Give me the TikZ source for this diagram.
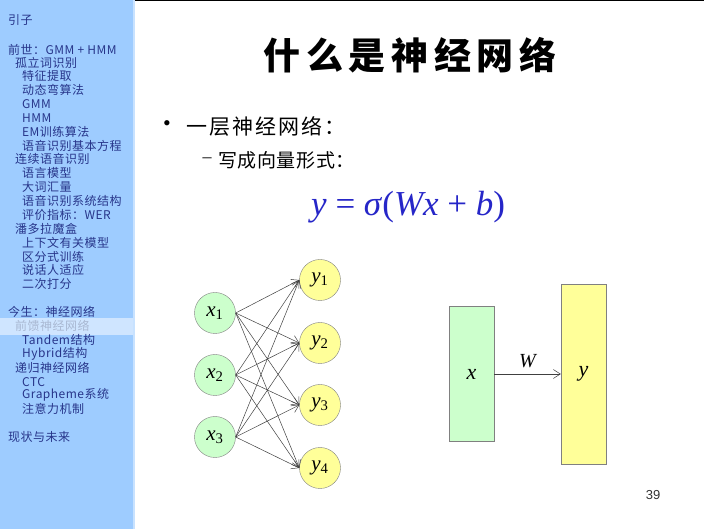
\documentclass[tikz,border=0pt]{standalone}
\usepackage{fontspec}
\setmainfont{Liberation Serif}
\newfontfamily\cjk{Noto Sans CJK SC}
\newfontfamily\pagefont{Liberation Sans}
\usetikzlibrary{arrows.meta,positioning}

\definecolor{sidebg}{HTML}{9ECCFF}
\definecolor{sideedge}{HTML}{C8E2FF}
\definecolor{sidehl}{HTML}{CFE5FF}
\definecolor{sidetext}{HTML}{27358A}
\definecolor{hltext}{HTML}{A9B8D2}
\definecolor{eqblue}{HTML}{2626C8}
\definecolor{ingreen}{HTML}{CCFFCC}
\definecolor{outyellow}{HTML}{FFFF99}

\begin{document}
\begin{tikzpicture}[x=1pt,y=-1pt,>={Straight Barb[length=7pt,width=9pt]},
  toc/.style={anchor=west,inner sep=0pt,text=sidetext,font=\cjk\fontsize{12}{12}\selectfont\addfontfeature{LetterSpace=4}},
  tochl/.style={toc,text=hltext},
  neuronx/.style={circle,draw=black!50,fill=ingreen,minimum size=41pt,inner sep=0pt,font=\fontsize{21}{21}\selectfont\itshape},
  neurony/.style={neuronx,fill=outyellow},
  vecbox/.style={draw=black!50,minimum width=45pt,inner sep=0pt,font=\fontsize{22}{22}\selectfont\itshape},
  link/.style={->,draw=black!75,line width=0.5pt}]
\useasboundingbox (0,0) rectangle (705,529);
\fill[white] (0,0) rectangle (705,529);

% sidebar
\fill[sidebg] (0,0) rectangle (133,529);
\fill[sideedge] (133,0) rectangle (135,529);
\fill[sidehl] (0,318) rectangle (133,335);
\draw[black,line width=1.2pt] (135,0.6) -- (704,0.6);

\node[toc] (s01) at (8,20) {引子};
\node[toc] (s02) at (8,50) {前世：GMM + HMM};
\node[toc] (s03) at (15,63) {孤立词识别};
\node[toc] (s04) at (22,76) {特征提取};
\node[toc] (s05) at (22,90) {动态弯算法};
\node[toc] (s06) at (22,104) {GMM};
\node[toc] (s07) at (22,118) {HMM};
\node[toc] (s08) at (22,132) {EM训练算法};
\node[toc] (s09) at (22,146) {语音识别基本方程};
\node[toc] (s10) at (15,159) {连续语音识别};
\node[toc] (s11) at (22,173) {语言模型};
\node[toc] (s12) at (22,187) {大词汇量};
\node[toc] (s13) at (22,201) {语音识别系统结构};
\node[toc] (s14) at (22,215) {评价指标：WER};
\node[toc] (s15) at (15,229) {潘多拉魔盒};
\node[toc] (s16) at (22,243) {上下文有关模型};
\node[toc] (s17) at (22,257) {区分式训练};
\node[toc] (s18) at (22,270) {说话人适应};
\node[toc] (s19) at (22,284) {二次打分};
\node[toc] (s20) at (8,312) {今生：神经网络};
\node[tochl] (s21) at (15,326) {前馈神经网络};
\node[toc] (s22) at (22,340) {Tandem结构};
\node[toc] (s23) at (22,354) {Hybrid结构};
\node[toc] (s24) at (15,368) {递归神经网络};
\node[toc] (s25) at (22,382) {CTC};
\node[toc] (s26) at (22,395) {Grapheme系统};
\node[toc] (s27) at (22,409) {注意力机制};
\node[toc] (s28) at (8,437) {现状与未来};

% slide text
\node[font=\cjk\bfseries\fontsize{37}{37}\selectfont\addfontfeature{LetterSpace=15}] (title) at (410,55) {什么是神经网络};
\node[anchor=center,inner sep=0pt,font=\fontsize{22}{22}\selectfont] (dot1) at (167,126) {•};
\node[anchor=west,inner sep=0pt,font=\cjk\fontsize{21}{21}\selectfont\addfontfeature{LetterSpace=10}] (item1) at (186,126) {一层神经网络：};
\node[anchor=center,inner sep=0pt,font=\fontsize{18}{18}\selectfont] (dash1) at (207,160) {–};
\node[anchor=west,inner sep=0pt,font=\cjk\fontsize{19}{19}\selectfont\addfontfeature{LetterSpace=3}] (item2) at (218,160) {写成向量形式：};
\node[anchor=west,inner sep=0pt,text=eqblue,font=\fontsize{35}{35}\selectfont] (eq) at (311,207) {\textit{y} = \textit{σ}(\textit{Wx} + \textit{b})};

% network
\node[neuronx] (x1) at (215,313) {x\textsubscript{\upshape 1}};
\node[neuronx] (x2) at (215,375) {x\textsubscript{\upshape 2}};
\node[neuronx] (x3) at (215,437) {x\textsubscript{\upshape 3}};
\node[neurony] (y1) at (320,280) {y\textsubscript{\upshape 1}};
\node[neurony] (y2) at (320,343) {y\textsubscript{\upshape 2}};
\node[neurony] (y3) at (320,405) {y\textsubscript{\upshape 3}};
\node[neurony] (y4) at (320,468) {y\textsubscript{\upshape 4}};
\draw[link] (x1.east) -- (y1.west);
\draw[link] (x1.east) -- (y2.west);
\draw[link] (x1.east) -- (y3.west);
\draw[link] (x1.east) -- (y4.west);
\draw[link] (x2.east) -- (y1.west);
\draw[link] (x2.east) -- (y2.west);
\draw[link] (x2.east) -- (y3.west);
\draw[link] (x2.east) -- (y4.west);
\draw[link] (x3.east) -- (y1.west);
\draw[link] (x3.east) -- (y2.west);
\draw[link] (x3.east) -- (y3.west);
\draw[link] (x3.east) -- (y4.west);

% vector form
\node[vecbox,fill=ingreen,minimum height=135pt] (xvec) at (471.5,374) {x};
\node[vecbox,fill=outyellow,minimum height=180pt] (yvec) at (583.5,374) {y};
\draw[link] (xvec.east) -- node[above=3pt,font=\fontsize{20}{20}\selectfont\itshape] (wlab) {W} (yvec.west);

\node[text=black!80,font=\pagefont\fontsize{13}{13}\selectfont] (pageno) at (653,495) {39};
\end{tikzpicture}
\end{document}
